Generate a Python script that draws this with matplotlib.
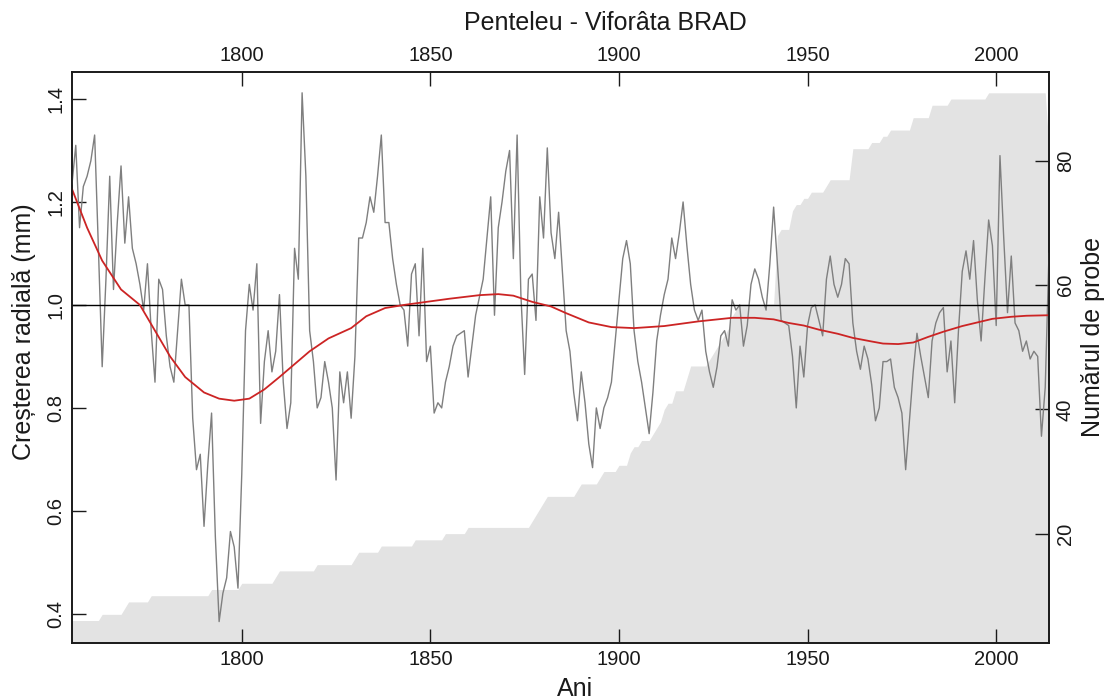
import matplotlib
matplotlib.use('Agg')
import matplotlib.pyplot as plt
import numpy as np

plt.rcParams['font.family'] = ['Liberation Sans', 'DejaVu Sans']

# yearly ring-width index, 1755-2014
years = np.arange(1755, 2015)
ring_index = [
    1.235, 1.31, 1.15, 1.23, 1.25,
    1.28, 1.33, 1.11, 0.88, 1.05, 1.25, 1.03, 1.16, 1.27, 1.12,
    1.21, 1.11, 1.08, 1.04, 0.99, 1.08, 0.95, 0.85, 1.05, 1.03,
    0.94, 0.88, 0.85, 0.95, 1.05, 1.00, 1.00, 0.78, 0.68, 0.71,
    0.57, 0.69, 0.79, 0.55, 0.385, 0.44, 0.47, 0.56, 0.53, 0.45,
    0.67, 0.95, 1.04, 0.99, 1.08, 0.77, 0.89, 0.95, 0.87, 0.91,
    1.02, 0.85, 0.76, 0.81, 1.11, 1.05, 1.412, 1.25, 0.95, 0.89,
    0.80, 0.82, 0.89, 0.85, 0.80, 0.66, 0.87, 0.81, 0.87, 0.78,
    0.90, 1.13, 1.13, 1.16, 1.21, 1.18, 1.25, 1.33, 1.16, 1.16,
    1.09, 1.04, 1.00, 0.99, 0.92, 1.06, 1.08, 0.94, 1.11, 0.89,
    0.92, 0.79, 0.81, 0.80, 0.85, 0.88, 0.92, 0.94, 0.945, 0.95,
    0.86, 0.92, 0.98, 1.015, 1.05, 1.13, 1.21, 0.98, 1.15, 1.20,
    1.26, 1.30, 1.09, 1.33, 1.02, 0.865, 1.05, 1.06, 0.97, 1.21,
    1.13, 1.305, 1.14, 1.09, 1.18, 1.065, 0.95, 0.91, 0.83, 0.775,
    0.87, 0.81, 0.73, 0.684, 0.80, 0.76, 0.80, 0.82, 0.85, 0.93,
    1.01, 1.09, 1.125, 1.08, 0.95, 0.89, 0.85, 0.80, 0.75, 0.83,
    0.93, 0.98, 1.02, 1.05, 1.13, 1.09, 1.14, 1.20, 1.115, 1.04,
    0.99, 0.97, 0.99, 0.91, 0.87, 0.84, 0.88, 0.94, 0.95, 0.92,
    1.01, 0.99, 1.00, 0.92, 0.96, 1.04, 1.07, 1.05, 1.015, 0.99,
    1.08, 1.19, 1.08, 0.97, 0.965, 0.96, 0.90, 0.80, 0.92, 0.86,
    0.96, 0.995, 1.00, 0.97, 0.94, 1.05, 1.095, 1.04, 1.015, 1.04,
    1.09, 1.08, 0.965, 0.91, 0.875, 0.92, 0.895, 0.845, 0.775, 0.80,
    0.89, 0.89, 0.895, 0.84, 0.82, 0.79, 0.68, 0.775, 0.87, 0.945,
    0.90, 0.86, 0.82, 0.93, 0.965, 0.985, 0.995, 0.87, 0.93, 0.81,
    0.95, 1.065, 1.105, 1.05, 1.125, 1.01, 0.93, 1.05, 1.165, 1.115,
    0.96, 1.29, 1.13, 0.985, 1.095, 0.965, 0.95, 0.91, 0.93, 0.895,
    0.91, 0.90, 0.745, 0.84, 1.10,
]

# number of samples per year
sample_depth = [
    6, 6, 6, 6, 6,
    6, 6, 6, 7, 7, 7, 7, 7, 7, 8,
    9, 9, 9, 9, 9, 9, 10, 10, 10, 10,
    10, 10, 10, 10, 10, 10, 10, 10, 10, 10,
    10, 10, 11, 11, 11, 11, 11, 11, 11, 11,
    12, 12, 12, 12, 12, 12, 12, 12, 12, 13,
    14, 14, 14, 14, 14, 14, 14, 14, 14, 14,
    15, 15, 15, 15, 15, 15, 15, 15, 15, 15,
    16, 17, 17, 17, 17, 17, 17, 18, 18, 18,
    18, 18, 18, 18, 18, 18, 19, 19, 19, 19,
    19, 19, 19, 19, 20, 20, 20, 20, 20, 20,
    21, 21, 21, 21, 21, 21, 21, 21, 21, 21,
    21, 21, 21, 21, 21, 21, 21, 22, 23, 24,
    25, 26, 26, 26, 26, 26, 26, 26, 26, 27,
    28, 28, 28, 28, 28, 29, 30, 30, 30, 30,
    31, 31, 31, 33, 34, 34, 35, 35, 35, 36,
    37, 38, 40, 41, 41, 43, 43, 43, 45, 47,
    47, 47, 47, 47, 48, 49, 50, 51, 52, 53,
    55, 56, 57, 57, 57, 57, 57, 57, 57, 57,
    57, 57, 68, 69, 69, 69, 72, 73, 73, 74,
    74, 75, 75, 75, 75, 76, 77, 77, 77, 77,
    77, 77, 82, 82, 82, 82, 82, 83, 83, 83,
    84, 84, 85, 85, 85, 85, 85, 85, 87, 87,
    87, 87, 87, 89, 89, 89, 89, 89, 90, 90,
    90, 90, 90, 90, 90, 90, 90, 90, 91, 91,
    91, 91, 91, 91, 91, 91, 91, 91, 91, 91,
    91, 91, 91, 91, 82,
]

# smoothing spline through the index
spline_years = [1755, 1759, 1763, 1768, 1773, 1777, 1781, 1785, 1790, 1794,
                1798, 1802, 1806, 1810, 1814, 1818, 1823, 1829, 1833, 1838,
                1843, 1848, 1855, 1863, 1868, 1872, 1877, 1882, 1886, 1892,
                1898, 1904, 1912, 1921, 1930, 1936, 1941, 1945, 1949, 1953,
                1958, 1962, 1967, 1970, 1974, 1978, 1982, 1986, 1991, 1995,
                1999, 2004, 2008, 2014]
spline_values = [1.225, 1.15, 1.086, 1.03, 1.0, 0.95, 0.90, 0.86, 0.83, 0.818,
                 0.814, 0.818, 0.836, 0.86, 0.885, 0.91, 0.935, 0.955, 0.978, 0.994,
                 1.0, 1.005, 1.012, 1.019, 1.021, 1.018, 1.006, 0.997, 0.984, 0.966,
                 0.957, 0.955, 0.959, 0.968, 0.975, 0.975, 0.972, 0.965, 0.96, 0.952,
                 0.944, 0.936, 0.929, 0.925, 0.924, 0.927, 0.938, 0.948, 0.959, 0.966,
                 0.973, 0.977, 0.979, 0.98]

W, H = 1113, 699
fig = plt.figure(figsize=(W / 100, H / 100), dpi=100)
ax = fig.add_axes([72 / W, 56.3 / H, 977 / W, 571 / H])
ax2 = ax.twinx()

# sample depth polygon in the background
ax2.fill_between(years, sample_depth, 0, color='#e3e3e3', linewidth=0)
ax2.set_ylim(2.43, 94.4)
ax.set_zorder(ax2.get_zorder() + 1)
ax.patch.set_visible(False)

ax.plot(years, ring_index, color='#7f7f7f', lw=1.0)
ax.axhline(1.0, color='black', lw=1.0)
ax.plot(spline_years, spline_values, color='#cc2424', lw=1.3)

ax.set_xlim(1755, 2014)
ax.set_ylim(0.344, 1.453)

tick_kw = dict(direction='in', length=10, width=1, labelsize=14.5, pad=5,
               colors='#1a1a1a')
ax.set_xticks([1800, 1850, 1900, 1950, 2000])
ax.tick_params(axis='x', top=True, labeltop=True, **tick_kw)
ax.set_yticks([0.4, 0.6, 0.8, 1.0, 1.2, 1.4])
ax.set_yticklabels(['0.4', '0.6', '0.8', '1.0', '1.2', '1.4'])
ax.tick_params(axis='y', labelrotation=90, **tick_kw)
for lab in ax.get_yticklabels():
    lab.set_va('center')

ax2.set_yticks([20, 40, 60, 80])
ax2.tick_params(axis='y', labelrotation=90, **tick_kw)
for lab in ax2.get_yticklabels():
    lab.set_va('center')

for a in (ax, ax2):
    for s in a.spines.values():
        s.set_color('#1a1a1a')
        s.set_linewidth(1.2)

fig.text(24 / W, 1 - 332 / H, 'Creșterea radială (mm)', rotation=90,
         ha='center', va='center', fontsize=18, color='#1a1a1a')
fig.text(1093 / W, 1 - 337 / H, 'Numărul de probe', rotation=90,
         ha='center', va='center', fontsize=18, color='#1a1a1a')
fig.text(575 / W, 1 - 696 / H, 'Ani', ha='center', va='baseline',
         fontsize=18, color='#1a1a1a')
fig.text(605 / W, 1 - 30 / H, 'Penteleu - Viforâta BRAD', ha='center',
         va='baseline', fontsize=18, color='#1a1a1a')

fig.savefig('out.png', dpi=100)
